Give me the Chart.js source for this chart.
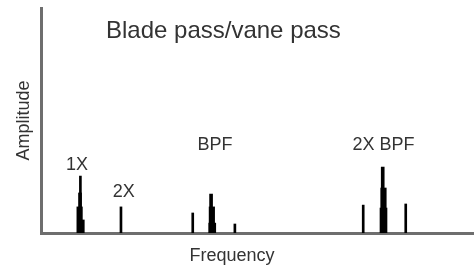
<!DOCTYPE html>
<html><head><meta charset="utf-8">
<script src="https://cdn.jsdelivr.net/npm/chart.js@4.4.1/dist/chart.umd.min.js"></script>
<style>html,body{margin:0;padding:0;background:#fff;overflow:hidden}#wrap{width:474px;height:272px;position:relative}</style>
</head><body><div id="wrap"><canvas id="c" width="474" height="272"></canvas></div>
<script>
// ---- texts ----
const chartTitle = 'Blade pass/vane pass';
const xAxisTitle = 'Frequency';
const yAxisTitle = 'Amplitude';

// ---- data: frequency in orders of running speed, amplitude in arbitrary units (0-100) ----
// narrow lines: 1X peak, 2X, sidebands around BPF and 2X BPF
const lineFreq = [1.01, 2.05, 3.89, 4.97, 8.26, 9.35];
const lineAmp  = [25.3, 11.6, 8.9, 4.0, 12.4, 12.9];
// spike tops of the clustered peaks
const spikeFreq = [1.00, 4.36, 8.76];
const spikeAmp  = [17.8, 17.3, 29.3];
// shoulders of the clustered peaks
const shoulderFreq = [0.99, 4.38, 8.78];
const shoulderAmp  = [11.6, 11.6, 20.0];
// skirts of the clustered peaks
const skirtFreq = [1.02, 4.39, 8.78];
const skirtAmp  = [5.8, 4.4, 11.1];

// peak labels
const peakLabels    = ['1X', '2X', 'BPF', '2X BPF'];
const peakLabelFreq = [0.92, 2.12, 4.46, 8.78];
const peakLabelAmp  = [28.0, 16.0, 36.9, 36.9];

const pts = (xs, ys) => xs.map((v, i) => ({x: v, y: ys[i]}));
const FONT = '"Liberation Sans", Arial, Helvetica, sans-serif';
const TEXT = '#333333';
const AXIS = '#6e6e6e';

const textPlugin = {
  id: 'texts',
  afterDatasetsDraw(chart) {
    const {ctx, scales: {x, y}} = chart;
    ctx.save();
    ctx.fillStyle = TEXT;
    ctx.textBaseline = 'alphabetic';
    ctx.font = '24px ' + FONT;
    ctx.textAlign = 'left';
    ctx.fillText(chartTitle, 106, 37.5);
    ctx.font = '18px ' + FONT;
    ctx.textAlign = 'center';
    peakLabels.forEach((t, i) => ctx.fillText(t, x.getPixelForValue(peakLabelFreq[i]), y.getPixelForValue(peakLabelAmp[i])));
    ctx.fillText(xAxisTitle, 232, 261);
    ctx.restore();
  }
};

const ds = (label, xs, ys, w) => ({
  label, data: pts(xs, ys), backgroundColor: '#000', borderWidth: 0,
  barThickness: w, grouped: false
});

new Chart(document.getElementById('c'), {
  type: 'bar',
  data: {
    datasets: [
      ds('skirts', skirtFreq, skirtAmp, 7),
      ds('shoulders', shoulderFreq, shoulderAmp, 5.5),
      ds('spikes', spikeFreq, spikeAmp, 3),
      ds('lines', lineFreq, lineAmp, 2)
    ]
  },
  options: {
    responsive: false, animation: false, devicePixelRatio: 1,
    layout: {padding: {top: 8, right: 0, left: 0, bottom: 0}},
    plugins: {legend: {display: false}, tooltip: {enabled: false}, title: {display: false}},
    scales: {
      x: {
        type: 'linear', min: 0, max: 11.1, offset: false,
        grid: {display: false, offset: false},
        ticks: {display: false},
        border: {display: true, color: AXIS, width: 3},
        afterFit: s => { s.height = 39; }
      },
      y: {
        type: 'linear', min: 0, max: 100,
        grid: {display: false},
        ticks: {display: false},
        border: {display: true, color: AXIS, width: 3},
        title: {display: true, text: yAxisTitle, color: TEXT, font: {family: FONT, size: 18}, padding: {top: 13, bottom: 0}},
        afterFit: s => { s.width = 41; }
      }
    }
  },
  plugins: [textPlugin]
});
</script>
</body></html>
